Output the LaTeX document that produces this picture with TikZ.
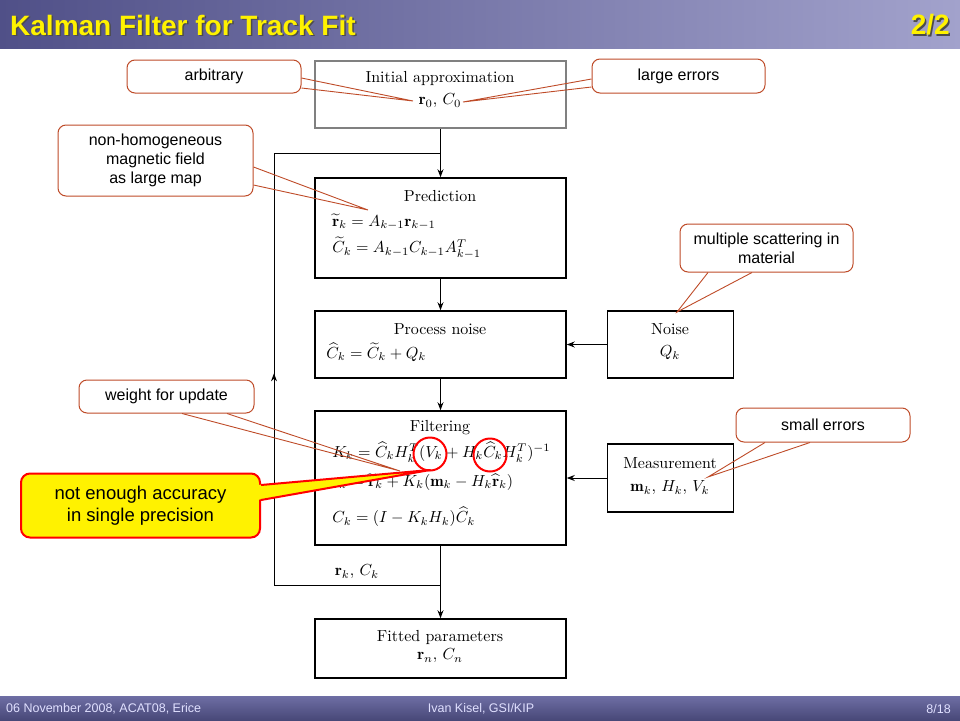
\documentclass[tikz,border=0pt]{standalone}
\usepackage{fontspec}
\usepackage{amsmath}
\usetikzlibrary{arrows.meta,positioning,calc}
\newfontfamily\callfont{Liberation Sans}
\definecolor{noteborder}{RGB}{190,75,40}
\definecolor{barleft}{RGB}{80,80,136}
\definecolor{barright}{RGB}{162,162,204}
\definecolor{footlight}{RGB}{110,110,164}
\definecolor{footdark}{RGB}{72,72,120}
\tikzstyle{block} = [rectangle, draw, line width=1.5pt, minimum width=251pt, inner sep=0pt]
\tikzstyle{smallblock} = [rectangle, draw, line width=1.5pt, minimum width=126pt, minimum height=67pt, inner sep=0pt]
\tikzstyle{eq} = [inner sep=0pt, font=\fontsize{10}{12}\selectfont, scale=1.6, transform shape]
\tikzstyle{note} = [rectangle, draw=noteborder, line width=1pt, rounded corners=8pt, fill=white, inner sep=0pt, align=center, font=\callfont\fontsize{16}{19}\selectfont]
\tikzstyle{bignote} = [rectangle, draw=red, line width=2pt, rounded corners=9pt, fill=yellow, inner sep=0pt, align=center, font=\callfont\fontsize{18.5}{21.5}\selectfont]
\tikzstyle{wedge} = [draw=noteborder, line width=0.9pt]
\tikzstyle{ring} = [circle, draw=red, line width=2pt, minimum size=33pt, inner sep=0pt]
\tikzstyle{headtext} = [inner sep=0pt, font=\callfont\bfseries\fontsize{28}{32}\selectfont]
\tikzstyle{foottext} = [inner sep=0pt, text=white!88!blue, font=\callfont\fontsize{12.5}{14}\selectfont]

\begin{document}
\begin{tikzpicture}[x=1pt, y=-1pt, >={Stealth[length=8pt,width=6pt]}]
   \useasboundingbox (0,0) rectangle (960,720);
   % title and footer bars
   \shade[left color=barleft, right color=barright] (0,0) rectangle (960,48);
   \shade[top color=footlight, bottom color=footdark] (0,696) rectangle (960,720);
   \node[headtext, text=black!70, anchor=west] (titleshadow) at (11.5,26.5) {Kalman Filter for Track Fit};
   \node[headtext, text=yellow, anchor=west] (title) at (10,25) {Kalman Filter for Track Fit};
   \node[headtext, text=black!70, anchor=east] (partshadow) at (951.5,26.5) {2/2};
   \node[headtext, text=yellow, anchor=east] (part) at (950,25) {2/2};
   \node[foottext, anchor=west] (date) at (6,709) {06 November 2008, ACAT08, Erice};
   \node[foottext] (author) at (481,709) {Ivan Kisel, GSI/KIP};
   \node[foottext, anchor=east] (page) at (951,709) {8/18};

   % nodes
   \node[block, draw=black!50, minimum height=67pt] (init) at (440.5,94.5) {};
   \node[block, minimum height=100pt] (pred) at (440.5,228) {};
   \node[block, minimum height=67pt] (pnoise) at (440.5,344.5) {};
   \node[smallblock, right=40pt of pnoise] (noise) {};
   \node[block, minimum height=134pt] (filt) at (440.5,478) {};
   \node[smallblock, minimum height=68pt, right=40pt of filt] (meas) {};
   \node[block, minimum height=59pt] (fit) at (440.5,648.5) {};

   % texts
   \node[eq] (initT) at (440,78) {Initial approximation};
   \node[eq] (initV) at (440,101) {$\mathbf{r}_0,\,C_0$};
   \node[eq] (predT) at (440,196) {Prediction};
   \node[eq, anchor=west] (predA) at (332,222) {$\widetilde{\mathbf{r}}_k = A_{k-1}\mathbf{r}_{k-1}$};
   \node[eq, anchor=west] (predB) at (332,248) {$\widetilde{C}_k = A_{k-1}C_{k-1}A_{k-1}^T$};
   \node[eq] (pnoiseT) at (440,329) {Process noise};
   \node[eq, anchor=west] (pnoiseA) at (326,352) {$\widehat{C}_k = \widetilde{C}_k + Q_k$};
   \node[eq] (noiseT) at (670,329) {Noise};
   \node[eq] (noiseV) at (670,353) {$Q_k$};
   \node[eq] (filtT) at (440,428) {Filtering};
   \node[eq, anchor=west] (filtA) at (332,452) {$K_k = \widehat{C}_k H_k^T (V_k + H_k \widehat{C}_k H_k^T)^{-1}$};
   \node[eq, anchor=west] (filtB) at (332,482) {$\mathbf{r}_k = \widetilde{\mathbf{r}}_k + K_k(\mathbf{m}_k - H_k\widehat{\mathbf{r}}_k)$};
   \node[eq, anchor=west] (filtC) at (332,517) {$C_k = (I - K_k H_k)\widehat{C}_k$};
   \node[eq] (measT) at (670,463) {Measurement};
   \node[eq] (measV) at (670,488) {$\mathbf{m}_k,\,H_k,\,V_k$};
   \node[eq] (fitT) at (440,637) {Fitted parameters};
   \node[eq] (fitV) at (440,656) {$\mathbf{r}_n,\,C_n$};
   \node[eq] (loopV) at (357,572) {$\mathbf{r}_k,\,C_k$};

   % edges
   \coordinate (merge) at (440.5,153);
   \coordinate (split) at (440.5,585);
   \coordinate (loopL) at (274,585);
   \coordinate (loopT) at (274,153);
   \draw[->, line width=1pt] (init) -- (pred);
   \draw[->, line width=1pt] (pred) -- (pnoise);
   \draw[->, line width=1pt] (pnoise) -- (filt);
   \draw[->, line width=1pt] (filt) -- (fit);
   \draw[->, line width=1pt] (noise) -- (pnoise);
   \draw[->, line width=1pt] (meas) -- (filt);
   \draw[line width=1pt] (split) -- (loopL);
   \draw[->, line width=1pt] (loopL) -- ($(loopL)!0.49!(loopT)$);
   \draw[line width=1pt] ($(loopL)!0.48!(loopT)$) -- (loopT) -- (merge);

   % callouts
   \node[note, minimum width=174pt, minimum height=33pt] (arb) at (214,76.5) {arbitrary};
   \node[note, minimum width=173pt, minimum height=34pt] (large) at (678.5,76) {large errors};
   \node[note, minimum width=195pt, minimum height=71pt] (field) at (155.5,160.5) {non-homogeneous\\magnetic field\\as large map};
   \node[note, minimum width=173pt, minimum height=48pt] (scat) at (766.5,248) {multiple scattering in\\material};
   \node[note, minimum width=175pt, minimum height=33pt] (weight) at (166.5,396.5) {weight for update};
   \node[note, minimum width=174pt, minimum height=34pt] (small) at (823,425) {small errors};
   \coordinate (arbtip) at (413,101);
   \coordinate (largetip) at (463,102);
   \coordinate (fieldtip) at (368,210);
   \coordinate (scattip) at (677,312);
   \coordinate (weighttip) at (400,471);
   \coordinate (smalltip) at (708,477);
   \draw[wedge] ($(arb.east)+(0,1.5)$) -- (arbtip) -- ($(arb.east)+(0,11.5)$);
   \draw[wedge] ($(large.west)+(0,3)$) -- (largetip) -- ($(large.west)+(0,11)$);
   \draw[wedge] ($(field.east)+(0,6.5)$) -- (fieldtip) -- ($(field.east)+(0,24.5)$);
   \draw[wedge] ($(scat.south)+(-58.5,0)$) -- (scattip) -- ($(scat.south)+(-14.5,0)$);
   \draw[wedge] ($(weight.south)+(15.5,0)$) -- (weighttip) -- ($(weight.south)+(60.5,0)$);
   \draw[wedge] ($(small.south)+(-58,0)$) -- (smalltip) -- ($(small.south)+(-13,0)$);

   % critical terms
   \node[ring] (ringV) at (430,454) {};
   \node[ring] (ringC) at (490,455) {};
   \node[bignote, minimum width=239pt, minimum height=64pt] (prec) at (140.5,505.5) {not enough accuracy\\in single precision};
   \coordinate (prectip) at (430,470);
   \fill[yellow] ($(prec.east)+(-4,-20.5)$) -- (prectip) -- ($(prec.east)+(-4,-5.5)$) -- cycle;
   \draw[red, line width=2pt, line join=round] ($(prec.east)+(0,-20.5)$) -- (prectip) -- ($(prec.east)+(0,-5.5)$);
\end{tikzpicture}
\end{document}
